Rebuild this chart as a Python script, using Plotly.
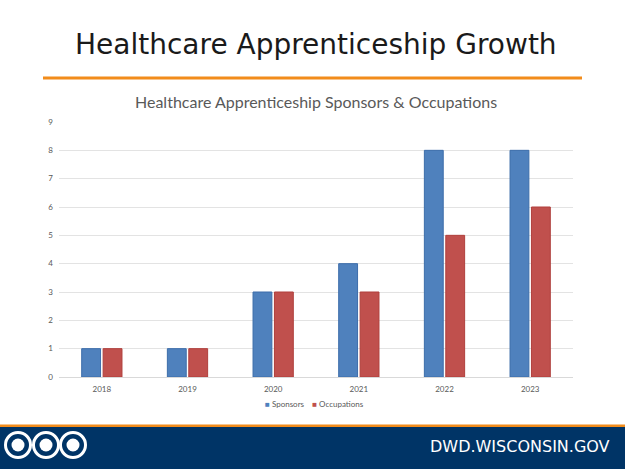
import plotly.graph_objects as go

years = ["2018", "2019", "2020", "2021", "2022", "2023"]
sponsors = [1, 1, 3, 4, 8, 8]
occupations = [1, 1, 3, 3, 5, 6]
y_ticks = [0, 1, 2, 3, 4, 5, 6, 7, 8, 9]

W, H = 625, 469
L, R, T, B = 59, 52, 122, 92
PW, PH = W - L - R, H - T - B

def px_x(v):
    return (v - L) / PW

def px_y(v):
    return (H - B - v) / PH

BLUE, RED = "#4F81BD", "#C0504D"

fig = go.Figure()
fig.add_trace(go.Bar(x=years, y=sponsors, name="Sponsors",
                     marker=dict(color=BLUE, line=dict(color="#3C6DAA", width=1))))
fig.add_trace(go.Bar(x=years, y=occupations, name="Occupations",
                     marker=dict(color=RED, line=dict(color="#B03F3C", width=1))))

fig.update_layout(
    width=W, height=H,
    margin=dict(l=L, r=R, t=T, b=B),
    paper_bgcolor="white", plot_bgcolor="white",
    barmode="group", bargap=0.5, bargroupgap=0.12,
    showlegend=False,
    font=dict(family="Lato, Open Sans, sans-serif"),
)
fig.update_xaxes(showgrid=False, showline=True, linecolor="#D9D9D9", linewidth=1,
                 ticks="", tickfont=dict(size=8, color="#595959"), ticklabelstandoff=4)
fig.update_yaxes(range=[0, 9], tickvals=y_ticks, showgrid=True, gridcolor="#E3E3E3",
                 gridwidth=1, zeroline=False, showline=False, ticks="",
                 tickfont=dict(size=8, color="#595959"), ticklabelstandoff=5)

# Manual legend
fig.add_annotation(
    text=f'<span style="color:{BLUE}">■</span> Sponsors    <span style="color:{RED}">■</span> Occupations',
    xref="paper", yref="paper", x=px_x(314), y=px_y(404), xanchor="center", yanchor="middle",
    showarrow=False, font=dict(family="Lato, Open Sans, sans-serif", size=8, color="#595959"))

# Slide title
fig.add_annotation(text="Healthcare Apprenticeship Growth", xref="paper", yref="paper",
                   x=0.5, y=px_y(45), xanchor="center", yanchor="middle",
                   showarrow=False, font=dict(family="DejaVu Sans", size=28, color="#1a1a1a"))
# Orange rule
fig.add_shape(type="line", xref="paper", yref="paper",
              x0=px_x(43), x1=px_x(582), y0=px_y(78), y1=px_y(78),
              line=dict(color="#F28C1B", width=3))
# Chart title
fig.add_annotation(text="Healthcare Apprenticeship Sponsors & Occupations", xref="paper", yref="paper",
                   x=0.5, y=px_y(101), xanchor="center", yanchor="middle",
                   showarrow=False, font=dict(family="Lato, Open Sans, sans-serif", size=16, color="#595959"))

# Footer band
fig.add_shape(type="rect", xref="paper", yref="paper", x0=px_x(0), x1=px_x(625),
              y0=px_y(469), y1=px_y(427), fillcolor="#003466", line=dict(width=0), layer="above")
fig.add_shape(type="rect", xref="paper", yref="paper", x0=px_x(0), x1=px_x(625),
              y0=px_y(427), y1=px_y(424.5), fillcolor="#F28C1B", line=dict(width=0), layer="above")
for cx in [18, 46, 73]:
    r = 12.5
    fig.add_shape(type="circle", xref="paper", yref="paper",
                  x0=px_x(cx - r), x1=px_x(cx + r), y0=px_y(445 + r), y1=px_y(445 - r),
                  fillcolor="#003466", line=dict(color="white", width=3), layer="above")
    fig.add_shape(type="circle", xref="paper", yref="paper",
                  x0=px_x(cx - 6.5), x1=px_x(cx + 6.5), y0=px_y(445 + 6.5), y1=px_y(445 - 6.5),
                  fillcolor="white", line=dict(width=0), layer="above")
fig.add_annotation(text="DWD.WISCONSIN.GOV", xref="paper", yref="paper",
                   x=px_x(520), y=px_y(446), xanchor="center", yanchor="middle", showarrow=False,
                   font=dict(family="DejaVu Sans", size=16, color="white"))

fig.write_html("out.html", config={"displayModeBar": False},
               post_script="document.body.style.margin='0';document.body.style.overflow='hidden';")
